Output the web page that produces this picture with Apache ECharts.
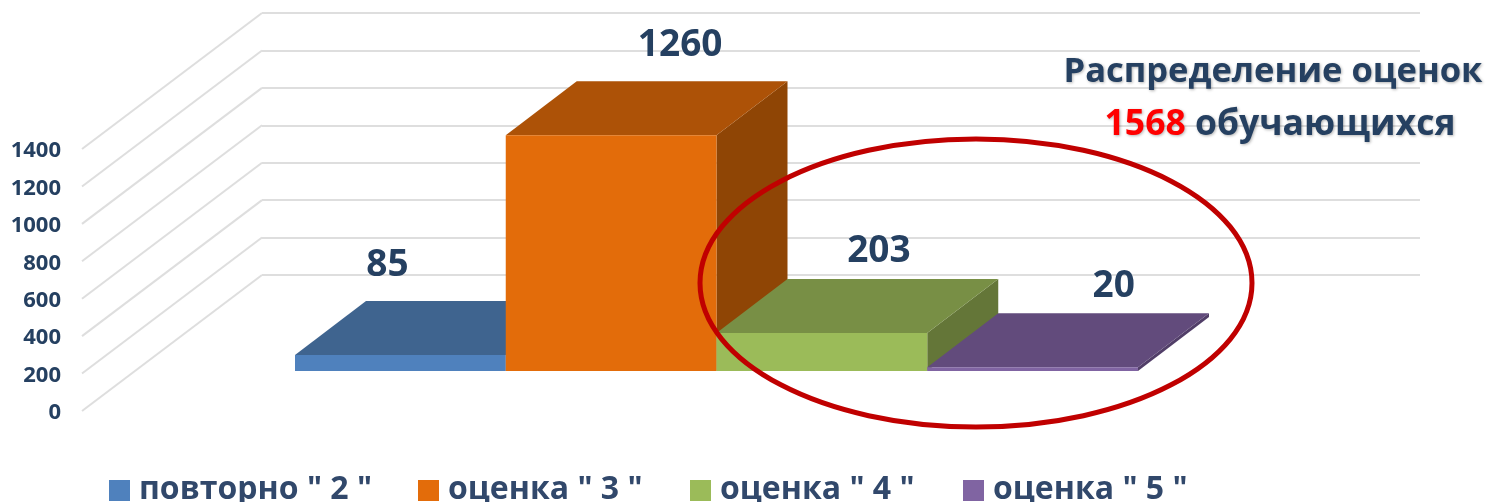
<!DOCTYPE html>
<html><head><meta charset="utf-8">
<style>html,body{margin:0;padding:0;background:#fff}#c{width:1501px;height:502px}</style>
<script src="https://cdn.jsdelivr.net/npm/echarts@6/dist/echarts.min.js"></script>
</head><body><div id="c"></div>
<script>
const categories = ['повторно " 2 "', 'оценка " 3 "', 'оценка " 4 "', 'оценка " 5 "'];
const values = [85, 1260, 203, 20];
const yTicks = [0, 200, 400, 600, 800, 1000, 1200, 1400];
const titleLine1 = 'Распределение оценок';
const titleCount = '1568';
const titleLine2 = ' обучающихся';

const frontColors = ['#4F81BD', '#E36C0A', '#9BBB59', '#8064A2'];
const topColors = ['#3F648F', '#AD5207', '#788F45', '#624B7C'];
const sideColors = ['#365578', '#8F4505', '#647638', '#513E68'];
const labelNudgeX = [-13, 69, 57, 81];
const labelNudgeY = [-90, -90, -82, -81];
const legendLeft = [109, 418, 690, 963];
const DEPTH_X = 71, DEPTH_Y = -54;
const WALL_X = -180, WALL_Y = 136;
const FONT = '"Open Sans"';
const NAVY = '#254061';
const SHADOW = { textShadowColor: 'rgba(0,0,0,0.3)', textShadowBlur: 3, textShadowOffsetX: 1, textShadowOffsetY: 1 };

function barSeries(i) {
  return {
    type: 'custom', name: categories[i], xAxisIndex: 0, yAxisIndex: 0, z: 10 + i,
    itemStyle: { color: frontColors[i] },
    encode: { x: 0, y: 1 },
    data: [[i, values[i]]],
    renderItem(params, api) {
      const top = api.coord([api.value(0), api.value(1)]);
      const base = api.coord([api.value(0), 0]);
      const w = api.size([1, 0])[0];
      const l = top[0] - w / 2, r = top[0] + w / 2, t = top[1], b = base[1];
      const poly = (pts, fill) => ({ type: 'polygon', shape: { points: pts }, style: { fill } });
      return { type: 'group', children: [
        poly([[r, b], [r + DEPTH_X, b + DEPTH_Y], [r + DEPTH_X, t + DEPTH_Y], [r, t]], sideColors[i]),
        poly([[l, t], [r, t], [r + DEPTH_X, t + DEPTH_Y], [l + DEPTH_X, t + DEPTH_Y]], topColors[i]),
        poly([[l, t], [r, t], [r, b], [l, b]], frontColors[i]),
        { type: 'text', z2: 50, style: {
          text: String(values[i]), x: top[0] + labelNudgeX[i], y: t + labelNudgeY[i],
          align: 'center', verticalAlign: 'middle', fill: NAVY,
          font: 'bold 37px ' + FONT } }
      ] };
    }
  };
}

const chart = echarts.init(document.getElementById('c'), null, { renderer: 'canvas' });
chart.setOption({
  animation: false,
  backgroundColor: '#fff',
  title: [
    { text: titleLine1, left: 1268, top: 50, textAlign: 'center',
      textStyle: { fontFamily: FONT, fontWeight: 'bold', fontSize: 34.5, color: NAVY, ...SHADOW } },
    { text: '{r|' + titleCount + '}{n|' + titleLine2 + '}', left: 1275, top: 102, textAlign: 'center',
      textStyle: { rich: {
        r: { fontFamily: FONT, fontWeight: 'bold', fontSize: 35.5, color: '#FF0000', ...SHADOW },
        n: { fontFamily: FONT, fontWeight: 'bold', fontSize: 35.5, color: NAVY, ...SHADOW }
      } } }
  ],
  legend: categories.map((c, i) => ({
    data: [c], left: legendLeft[i], top: 474, padding: 0, icon: 'rect', itemWidth: 21, itemHeight: 21,
    itemGap: 0, selectedMode: false,
    formatter: n => '{t|' + n + '}',
    textStyle: { rich: { t: { fontFamily: FONT, fontWeight: 'bold', fontSize: 32, color: '#31486B',
      padding: [0, 0, 1, 4] } } }
  })),
  grid: [
    { left: 295, width: 843, top: 109, height: 262 },
    { left: 262, width: 1158, top: 13, height: 262 },
    { left: 82, width: 1, top: 151, height: 262 }
  ],
  xAxis: [
    { gridIndex: 0, type: 'category', data: categories, show: false },
    { gridIndex: 1, type: 'value', min: 0, max: 1, show: false },
    { gridIndex: 2, type: 'value', min: 0, max: 1, show: false }
  ],
  yAxis: [
    { gridIndex: 0, type: 'value', min: 0, max: 1400, interval: 200, show: false },
    { gridIndex: 1, type: 'value', min: 0, max: 1400, interval: 200,
      axisLine: { show: false }, axisTick: { show: false }, axisLabel: { show: false },
      splitLine: { show: true, lineStyle: { color: '#DEDEDE', width: 2 } } },
    { gridIndex: 2, type: 'value', min: 0, max: 1400, interval: 200,
      axisLine: { show: false }, axisTick: { show: false }, splitLine: { show: false },
      axisLabel: { show: true, margin: 21, fontFamily: FONT, fontWeight: 'bold', fontSize: 22, color: NAVY,
        formatter: v => String(v) } }
  ],
  series: [
    {
      type: 'custom', name: 'wall', xAxisIndex: 1, yAxisIndex: 1, z: 1, silent: true,
      encode: { y: 0 }, data: yTicks.map(v => [v]),
      renderItem(params, api) {
        const p = api.coord([0, api.value(0)]);
        return { type: 'line', shape: { x1: p[0], y1: p[1], x2: p[0] + WALL_X, y2: p[1] + WALL_Y },
          style: { stroke: '#DEDEDE', lineWidth: 2 } };
      }
    },
    { type: 'line', xAxisIndex: 2, yAxisIndex: 2, data: [], silent: true },
    ...categories.map((c, i) => barSeries(i))
  ],
  graphic: [{
    type: 'ellipse', z: 100, shape: { cx: 976, cy: 283, rx: 276, ry: 144 },
    style: { fill: 'none', stroke: '#C00000', lineWidth: 5 }
  }]
});
</script></body></html>
